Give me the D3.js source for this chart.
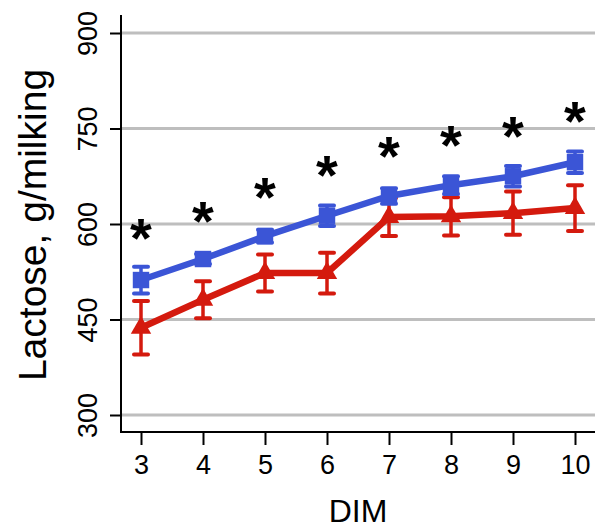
<!DOCTYPE html>
<html>
<head>
<meta charset="utf-8">
<script src="https://cdn.jsdelivr.net/npm/d3@7"></script>
<style>
  body { margin: 0; background: #fff; }
  svg { display: block; font-family: "Liberation Sans", Arial, sans-serif; }
</style>
</head>
<body>
<div id="chart"></div>
<script>
// Data
const dim = [3, 4, 5, 6, 7, 8, 9, 10];
const blueMean = [512, 545, 581, 613, 644, 661, 675, 697];
const blueSE = [21, 8, 10, 16, 12, 14, 16, 17];
const redMean = [437, 481, 523, 523, 611, 612, 617, 625];
const redSE = [42, 29, 29, 32, 30, 30, 34, 36];
const starLevel = [591, 617, 655, 690, 719, 737, 751, 774];
const yTicks = [300, 450, 600, 750, 900];

const width = 595, height = 530;
const colors = { blue: "#3b55d6", red: "#d41a0e", grid: "#bebebe" };

const x = d3.scaleLinear().domain([3, 10]).range([141, 575]);
const y = d3.scaleLinear().domain([300, 900]).range([415, 33]);

const svg = d3.select("#chart").append("svg")
    .attr("width", width)
    .attr("height", height);

// Gridlines
svg.append("g")
    .selectAll("line")
    .data(yTicks)
    .enter()
    .append("line")
    .attr("x1", 121).attr("x2", width)
    .attr("y1", d => y(d)).attr("y2", d => y(d))
    .attr("stroke", colors.grid)
    .attr("stroke-width", 3);

// Y axis
const yAxis = svg.append("g")
    .attr("transform", "translate(121,0)")
    .call(d3.axisLeft(y).tickValues(yTicks).tickSize(11).tickSizeOuter(0));
yAxis.select(".domain").remove();
yAxis.selectAll(".tick line").attr("stroke", "#000").attr("stroke-width", 2);
yAxis.selectAll(".tick text").remove();
yAxis.selectAll(".tick")
    .append("text")
    .attr("transform", "translate(-24,0) rotate(-90)")
    .attr("text-anchor", "middle")
    .attr("fill", "#000")
    .attr("font-size", 27)
    .text(d => d);
svg.append("line")
    .attr("x1", 121).attr("x2", 121)
    .attr("y1", 15).attr("y2", 433)
    .attr("stroke", "#000").attr("stroke-width", 2);

// X axis
const xAxis = svg.append("g")
    .attr("transform", "translate(0,432)")
    .call(d3.axisBottom(x).tickValues(dim).tickFormat(d3.format("d"))
        .tickSize(13).tickPadding(10).tickSizeOuter(0));
xAxis.select(".domain").remove();
xAxis.selectAll(".tick line").attr("stroke", "#000").attr("stroke-width", 2);
xAxis.selectAll(".tick text")
    .attr("fill", "#000")
    .attr("font-size", 27)
    .attr("font-family", "Liberation Sans, Arial, sans-serif");
svg.append("line")
    .attr("x1", 120).attr("x2", width)
    .attr("y1", 432).attr("y2", 432)
    .attr("stroke", "#000").attr("stroke-width", 2);

// Axis titles
svg.append("text")
    .attr("x", 358).attr("y", 522)
    .attr("text-anchor", "middle")
    .attr("font-size", 32)
    .text("DIM");
svg.append("text")
    .attr("transform", "translate(46,225) rotate(-90)")
    .attr("text-anchor", "middle")
    .attr("font-size", 39)
    .text("Lactose, g/milking");

// Series drawing
function drawSeries(means, ses, color, symbol, size) {
    const g = svg.append("g");
    const pts = dim.map((d, i) => ({ x: d, m: means[i], se: ses[i] }));

    g.append("path")
        .datum(pts)
        .attr("fill", "none")
        .attr("stroke", color)
        .attr("stroke-width", 6.5)
        .attr("d", d3.line().x(d => x(d.x)).y(d => y(d.m)));

    const eb = g.selectAll(".eb").data(pts).enter().append("g");
    eb.append("line")
        .attr("x1", d => x(d.x)).attr("x2", d => x(d.x))
        .attr("y1", d => y(d.m - d.se)).attr("y2", d => y(d.m + d.se))
        .attr("stroke", color).attr("stroke-width", 3.5);
    [-1, 1].forEach(s => {
        eb.append("line")
            .attr("x1", d => x(d.x) - 7).attr("x2", d => x(d.x) + 7)
            .attr("y1", d => y(d.m + s * d.se)).attr("y2", d => y(d.m + s * d.se))
            .attr("stroke", color).attr("stroke-width", 4)
            .attr("stroke-linecap", "round");
    });

    g.selectAll(".pt").data(pts).enter().append("path")
        .attr("transform", d => `translate(${x(d.x)},${y(d.m)})`)
        .attr("d", d3.symbol().type(symbol).size(size))
        .attr("fill", color);
}

drawSeries(redMean, redSE, colors.red, d3.symbolTriangle, 180);
drawSeries(blueMean, blueSE, colors.blue, d3.symbolSquare, 270);

// Significance asterisks
svg.append("g")
    .selectAll("text")
    .data(dim.map((d, i) => ({ x: d, v: starLevel[i] })))
    .enter()
    .append("text")
    .attr("x", d => x(d.x))
    .attr("y", d => y(d.v) + 27)
    .attr("text-anchor", "middle")
    .attr("font-size", 56)
    .attr("font-weight", "bold")
    .text("*");
</script>
</body>
</html>
